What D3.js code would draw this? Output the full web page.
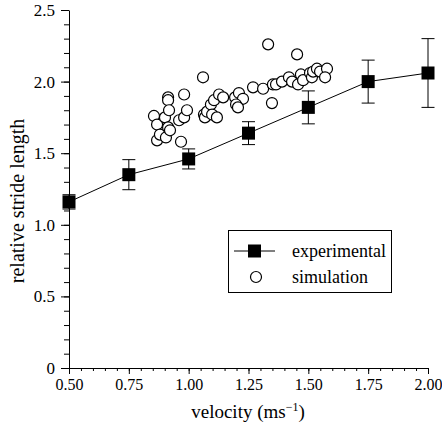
<!DOCTYPE html>
<html><head><meta charset="utf-8">
<script src="https://cdn.jsdelivr.net/npm/d3@7"></script>
<style>body{margin:0;background:#fff}svg{display:block}</style>
</head><body><svg id="c" width="442" height="432"></svg>
<script>
const expVelocity = [0.50, 0.75, 1.00, 1.25, 1.50, 1.75, 2.00];
const expStride   = [1.16, 1.35, 1.46, 1.64, 1.82, 2.00, 2.06];
const expError    = [0.05, 0.105, 0.07, 0.08, 0.115, 0.15, 0.24];
const simVelocity = [0.855,0.868,0.868,0.880,0.901,0.905,0.914,0.914,0.918,0.914,0.922,0.960,0.981,0.981,0.993,0.968,1.060,
  1.064,1.068,1.077,1.093,1.098,1.106,1.118,1.127,1.144,1.194,1.210,1.227,1.198,1.206,
  1.269,1.311,1.352,1.365,1.390,1.419,1.432,1.457,1.469,1.478,1.507,1.515,1.520,1.536,1.549,1.578,1.570,1.348,1.332,1.453];
const simStride = [1.76,1.70,1.59,1.63,1.75,1.61,1.89,1.87,1.80,1.68,1.66,1.73,1.75,1.91,1.80,1.58,2.03,
  1.77,1.75,1.79,1.84,1.77,1.87,1.75,1.91,1.89,1.89,1.92,1.88,1.84,1.82,
  1.96,1.95,1.98,1.98,2.00,2.03,2.00,1.98,2.05,2.01,2.06,2.03,2.07,2.09,2.07,2.09,2.03,1.85,2.26,2.19];
const xTicks = [0.50, 0.75, 1.00, 1.25, 1.50, 1.75, 2.00];
const xTickLabels = ["0.50","0.75","1.00","1.25","1.50","1.75","2.00"];
const yTicks = [0, 0.5, 1.0, 1.5, 2.0, 2.5];
const yTickLabels = ["0","0.5","1.0","1.5","2.0","2.5"];
const legendLabels = ["experimental","simulation"];

const FONT = "'Liberation Serif', Tinos, 'Times New Roman', 'DejaVu Serif', serif";
const svg = d3.select("#c");
const x = d3.scaleLinear().domain([0.5, 2.0]).range([69, 428]);
const y = d3.scaleLinear().domain([0, 2.5]).range([368, 10]);

// minor ticks
const xMinor = d3.range(0.5, 2.0001, 0.05);
const yMinor = d3.range(0, 2.5001, 0.1);
svg.append("g").attr("transform","translate(0,368)")
  .call(d3.axisBottom(x).tickValues(xMinor).tickSize(3).tickFormat(""))
  .call(g=>g.select(".domain").remove());
svg.append("g").attr("transform","translate(69,0)")
  .call(d3.axisLeft(y).tickValues(yMinor).tickSize(5).tickFormat(""))
  .call(g=>g.select(".domain").remove());

const xa = svg.append("g").attr("transform","translate(0,368)")
  .call(d3.axisBottom(x).tickValues(xTicks).tickSize(6).tickSizeOuter(0).tickPadding(5)
    .tickFormat((d,i)=>xTickLabels[i]));
xa.attr("font-family",FONT).attr("font-size",16);
const ya = svg.append("g").attr("transform","translate(69,0)")
  .call(d3.axisLeft(y).tickValues(yTicks).tickSize(8).tickSizeOuter(0).tickPadding(6)
    .tickFormat((d,i)=>yTickLabels[i]));
ya.attr("font-family",FONT).attr("font-size",17);
svg.selectAll(".domain, .tick line").attr("stroke","#000").attr("stroke-width",1);

// axis titles
const xt = svg.append("text").attr("x",248).attr("y",418).attr("text-anchor","middle")
  .attr("font-family",FONT).attr("font-size",19);
xt.append("tspan").text("velocity (ms");
xt.append("tspan").attr("dy",-7).attr("font-size",12).text("\u22121");
xt.append("tspan").attr("dy",7).text(")");
svg.append("text").attr("transform","translate(24,201) rotate(-90)").attr("text-anchor","middle")
  .attr("font-family",FONT).attr("font-size",20).text("relative stride length");

// simulation circles
const sim = simVelocity.map((v,i)=>({v, s: simStride[i]}));
svg.append("g").selectAll("circle").data(sim).join("circle")
  .attr("cx",d=>x(d.v)).attr("cy",d=>y(d.s)).attr("r",5.5)
  .attr("fill","#fff").attr("stroke","#000").attr("stroke-width",1.2);

// experimental
const exp = expVelocity.map((v,i)=>({v, s: expStride[i], e: expError[i]}));
const line = d3.line().x(d=>x(d.v)).y(d=>y(d.s));
svg.append("path").datum(exp).attr("d",line).attr("fill","none").attr("stroke","#000").attr("stroke-width",1);
const eb = svg.append("g").selectAll("g").data(exp).join("g");
eb.append("line").attr("x1",d=>x(d.v)).attr("x2",d=>x(d.v)).attr("y1",d=>y(d.s-d.e)).attr("y2",d=>y(d.s+d.e)).attr("stroke","#000");
eb.append("line").attr("x1",d=>x(d.v)-6.5).attr("x2",d=>x(d.v)+6.5).attr("y1",d=>y(d.s-d.e)).attr("y2",d=>y(d.s-d.e)).attr("stroke","#000");
eb.append("line").attr("x1",d=>x(d.v)-6.5).attr("x2",d=>x(d.v)+6.5).attr("y1",d=>y(d.s+d.e)).attr("y2",d=>y(d.s+d.e)).attr("stroke","#000");
eb.append("rect").attr("x",d=>x(d.v)-6.5).attr("y",d=>y(d.s)-6.5).attr("width",13).attr("height",13).attr("fill","#000");

// legend
const lg = svg.append("g").attr("font-family",FONT);
lg.append("rect").attr("x",228.5).attr("y",230.5).attr("width",163).attr("height",62).attr("fill","#fff").attr("stroke","#000");
lg.append("line").attr("x1",234).attr("x2",275).attr("y1",251).attr("y2",251).attr("stroke","#000");
lg.append("rect").attr("x",248).attr("y",244.5).attr("width",13).attr("height",13).attr("fill","#000");
lg.append("circle").attr("cx",256).attr("cy",277).attr("r",5.5).attr("fill","#fff").attr("stroke","#000").attr("stroke-width",1.2);
lg.append("text").attr("x",292).attr("y",257).attr("font-size",18).text(legendLabels[0]);
lg.append("text").attr("x",292).attr("y",283).attr("font-size",18).text(legendLabels[1]);
</script></body></html>
